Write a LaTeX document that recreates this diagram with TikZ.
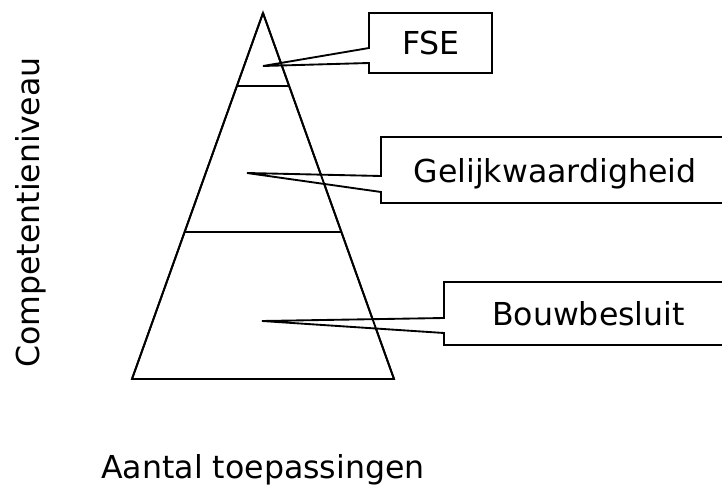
\documentclass[tikz,border=0pt]{standalone}
\usepackage{fontspec}
\setmainfont{DejaVu Sans}
\begin{document}
\begin{tikzpicture}[x=0.75pt,y=-0.75pt,
  outline/.style={draw=black,line width=1.4pt,line join=miter},
  lbl/.style={inner sep=0pt,anchor=base,font=\fontsize{23.7}{28}\selectfont}]
\useasboundingbox (0,0) rectangle (722,485);
\clip (0,0) rectangle (722,485);
% pyramid
\coordinate (apex) at (263,13);
\coordinate (bl) at (132,379);
\coordinate (br) at (394,379);
\draw[outline] (apex) -- (bl) -- (br) -- cycle;
\coordinate (l1a) at (237,86);
\coordinate (l1b) at (289,86);
\coordinate (l2a) at (185,232);
\coordinate (l2b) at (341,232);
\draw[outline] (l1a) -- (l1b);
\draw[outline] (l2a) -- (l2b);
% callout FSE
\coordinate (t1) at (263,66);
\draw[outline,fill=white] (369,13) -- (369,48) -- (t1) -- (369,63) -- (369,73) -- (492,73) -- (492,13) -- cycle;
\node[lbl] (fse) at (431,55) {FSE};
% callout Gelijkwaardigheid
\coordinate (t2) at (247,173);
\draw[outline,fill=white] (381,137) -- (381,176) -- (t2) -- (381,192) -- (381,203) -- (740,203) -- (740,137) -- cycle;
\node[lbl] (gel) at (555,183) {Gelijkwaardigheid};
% callout Bouwbesluit
\coordinate (t3) at (262,321);
\draw[outline,fill=white] (444,282) -- (444,318) -- (t3) -- (444,333) -- (444,345) -- (740,345) -- (740,282) -- cycle;
\node[lbl] (bouw) at (588.5,325) {Bouwbesluit};
% pyramid edges over the callouts
\draw[outline] (apex) -- (bl) (apex) -- (br);
% axis labels
\node[lbl,rotate=90] (yl) at (39,212.5) {Competentieniveau};
\node[lbl] (xl) at (263,478) {Aantal toepassingen};
\end{tikzpicture}
\end{document}
